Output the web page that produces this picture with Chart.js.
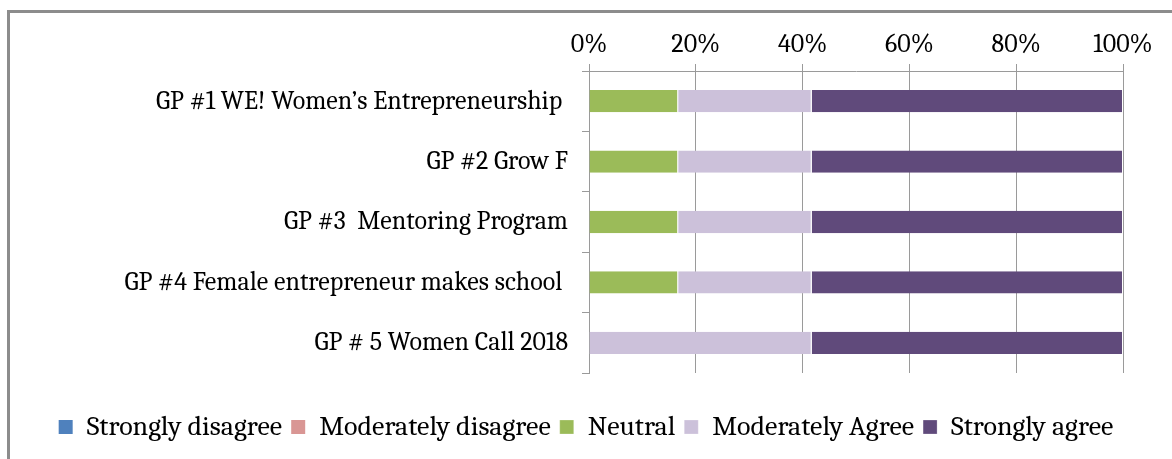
<!DOCTYPE html>
<html>
<head>
<meta charset="utf-8">
<script src="https://cdn.jsdelivr.net/npm/chart.js@4"></script>
<style>
  body { margin: 0; background: #fff; }
  #frame { position: absolute; left: 7px; top: 10px; width: 1200px; height: 500px;
           border-left: 3px solid #8c8c8c; border-top: 3px solid #8c8c8c; }
  #chart { position: absolute; left: 0; top: 0; }
</style>
</head>
<body>
<div id="frame"></div>
<canvas id="chart" width="1172" height="459"></canvas>
<script>
// categories (trailing spaces kept as in the source labels)
var programs = [
    'GP #1 WE! Women\u2019s Entrepreneurship ',
    'GP #2 Grow F',
    'GP #3  Mentoring Program',
    'GP #4 Female entrepreneur makes school ',
    'GP # 5 Women Call 2018'
];
var answers = ['Strongly disagree', 'Moderately disagree', 'Neutral', 'Moderately Agree', 'Strongly agree'];
// share of answers per program, %
var stronglyDisagree = [0, 0, 0, 0, 0];
var moderatelyDisagree = [0, 0, 0, 0, 0];
var neutral = [16.7, 16.7, 16.7, 16.7, 0];
var moderatelyAgree = [25, 25, 25, 25, 41.7];
var stronglyAgree = [58.3, 58.3, 58.3, 58.3, 58.3];
var xTicks = [0, 20, 40, 60, 80, 100];

var colors = ['#4f81bd', '#d99694', '#9bbb59', '#ccc1da', '#604a7b'];
var series = [stronglyDisagree, moderatelyDisagree, neutral, moderatelyAgree, stronglyAgree];
var fontFamily = 'Cambria, Caladea, "Liberation Serif", serif';
var font = { family: fontFamily, size: 26 };
var gridColor = '#9a9a9a';

var datasets = series.map(function (values, i) {
    var empty = values.every(function (v) { return v === 0; });
    return {
        label: answers[i],
        data: values,
        backgroundColor: colors[i],
        borderColor: '#ffffff',
        borderWidth: empty ? 0 : { top: 0, bottom: 0, left: 0, right: 1 },
        borderSkipped: false,
        barPercentage: 0.37,
        categoryPercentage: 1
    };
});

new Chart(document.getElementById('chart').getContext('2d'), {
    type: 'bar',
    data: { labels: programs, datasets: datasets },
    options: {
        indexAxis: 'y',
        responsive: false,
        animation: false,
        layout: { padding: { left: 0, right: 0, top: 0, bottom: 8 } },
        scales: {
            x: {
                position: 'top',
                stacked: true,
                min: 0,
                max: 100,
                afterBuildTicks: function (scale) {
                    scale.ticks = xTicks.map(function (v) { return { value: v }; });
                },
                afterFit: function (scale) { scale.height = 71; },
                ticks: {
                    color: '#000',
                    font: font,
                    padding: 4,
                    callback: function (v) { return v + '%'; }
                },
                grid: { color: gridColor, lineWidth: 1, tickLength: 7 },
                border: { color: gridColor, width: 1 }
            },
            y: {
                stacked: true,
                afterFit: function (scale) { scale.width = 589; },
                ticks: { color: '#000', font: font, padding: 14 },
                grid: { color: gridColor, drawOnChartArea: false, tickLength: 7, offset: true },
                border: { color: gridColor, width: 1 }
            },
            // empty strip on the right so the legend can use the full width
            yRight: {
                type: 'category',
                axis: 'y',
                position: 'right',
                afterFit: function (scale) { scale.width = 49; },
                ticks: { display: false },
                grid: { display: false },
                border: { display: false }
            }
        },
        plugins: {
            tooltip: { enabled: false },
            legend: {
                position: 'bottom',
                title: { display: true, text: '', font: { size: 10 }, padding: { top: 0, bottom: 19 } },
                labels: {
                    color: '#000',
                    font: { family: fontFamily, size: 28 },
                    boxWidth: 14,
                    boxHeight: 14,
                    padding: 9
                }
            }
        }
    }
});
</script>
</body>
</html>
